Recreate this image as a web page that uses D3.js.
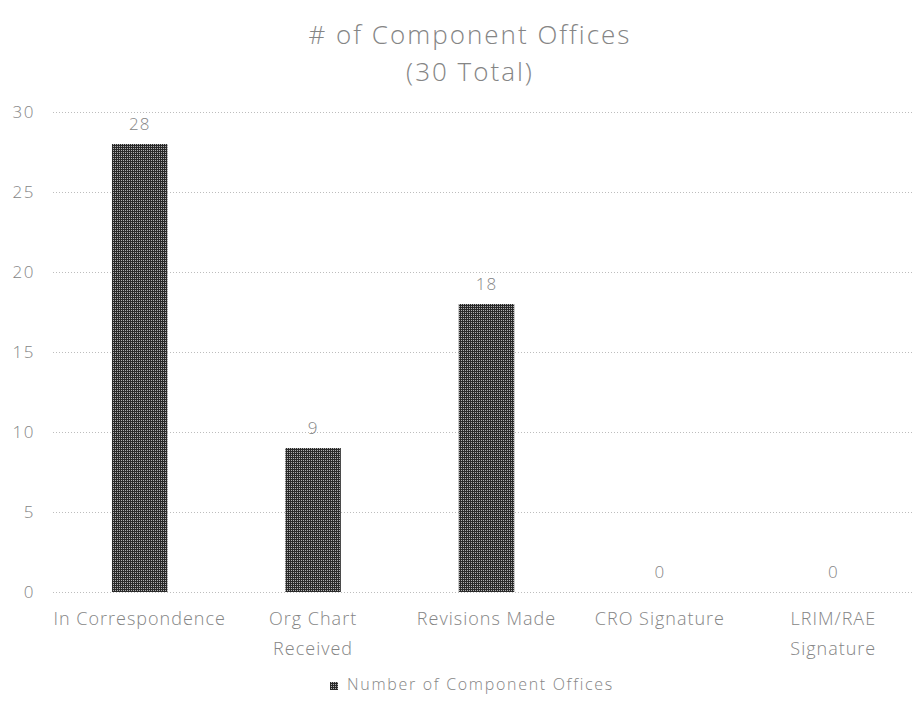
<!DOCTYPE html>
<html>
<head>
<meta charset="utf-8">
<script src="https://cdn.jsdelivr.net/npm/d3@7"></script>
<style>
  body { margin: 0; background: #fff; }
  text { font-family: "Open Sans", "DejaVu Sans", sans-serif; fill: #858585; font-weight: 300; }
</style>
</head>
<body>
<div id="chart"></div>
<script>
// chart data
var categories = [["In Correspondence"], ["Org Chart", "Received"], ["Revisions Made"], ["CRO Signature"], ["LRIM/RAE", "Signature"]];
var counts = [28, 9, 18, 0, 0];
var yTicks = [0, 5, 10, 15, 20, 25, 30];
var titleLines = ["# of Component Offices", "(30 Total)"];
var seriesName = "Number of Component Offices";

var W = 915, H = 702;
var svg = d3.select('#chart').append('svg')
  .attr('width', W)
  .attr('height', H);

// dithered look of the bars
var pat = svg.append('defs').append('pattern')
  .attr('id', 'dots')
  .attr('width', 2).attr('height', 2)
  .attr('patternUnits', 'userSpaceOnUse');
pat.append('rect').attr('width', 2).attr('height', 2).attr('fill', '#2a2a2a');
pat.append('rect').attr('x', 1).attr('y', 0).attr('width', 1).attr('height', 1).attr('fill', '#b0b0b0');

var x = d3.scaleBand()
  .domain(d3.range(categories.length))
  .range([53, 920])
  .paddingInner(0.68)
  .paddingOuter(0.34);

var y = d3.scaleLinear()
  .domain([0, 30])
  .range([592, 112]);

// gridlines
svg.append('g').selectAll('line')
  .data(yTicks)
  .enter().append('line')
  .attr('x1', 53).attr('x2', 913)
  .attr('y1', function(d) { return y(d) + 0.5; })
  .attr('y2', function(d) { return y(d) + 0.5; })
  .attr('stroke', '#bdbdbd')
  .attr('stroke-dasharray', '1,2');

// y tick labels
svg.append('g').selectAll('text')
  .data(yTicks)
  .enter().append('text')
  .attr('x', 35)
  .attr('y', function(d) { return y(d) + 6; })
  .attr('text-anchor', 'end')
  .style('font-size', '17px')
  .style('letter-spacing', '1.5px')
  .text(function(d) { return d; });

// bars
svg.append('g').selectAll('rect')
  .data(counts)
  .enter().append('rect')
  .attr('x', function(d, i) { return x(i); })
  .attr('y', function(d) { return y(d); })
  .attr('width', x.bandwidth())
  .attr('height', function(d) { return y(0) - y(d); })
  .attr('fill', 'url(#dots)');

// value labels
svg.append('g').selectAll('text')
  .data(counts)
  .enter().append('text')
  .attr('x', function(d, i) { return x(i) + x.bandwidth() / 2; })
  .attr('y', function(d) { return y(d) - 14; })
  .attr('text-anchor', 'middle')
  .style('font-size', '17px')
  .style('letter-spacing', '1px')
  .text(function(d) { return d; });

// category labels
var cat = svg.append('g').selectAll('text')
  .data(categories)
  .enter().append('text')
  .attr('text-anchor', 'middle')
  .style('font-size', '18px')
  .style('letter-spacing', '1px');
cat.selectAll('tspan')
  .data(function(d, i) { return d.map(function(s) { return {s: s, i: i}; }); })
  .enter().append('tspan')
  .attr('x', function(d) { return x(d.i) + x.bandwidth() / 2; })
  .attr('y', function(d, j) { return 625 + j * 30; })
  .text(function(d) { return d.s; });

// title
svg.append('g').selectAll('text')
  .data(titleLines)
  .enter().append('text')
  .attr('x', 470)
  .attr('y', function(d, i) { return 44 + i * 37; })
  .attr('text-anchor', 'middle')
  .style('font-size', '26px')
  .style('letter-spacing', '2px')
  .text(function(d) { return d; });

// legend
var leg = svg.append('g');
leg.append('rect')
  .attr('x', 330).attr('y', 682)
  .attr('width', 8).attr('height', 8)
  .attr('fill', 'url(#dots)');
leg.append('text')
  .attr('x', 347).attr('y', 690)
  .style('font-size', '16px')
  .style('letter-spacing', '1.7px')
  .text(seriesName);
</script>
</body>
</html>
